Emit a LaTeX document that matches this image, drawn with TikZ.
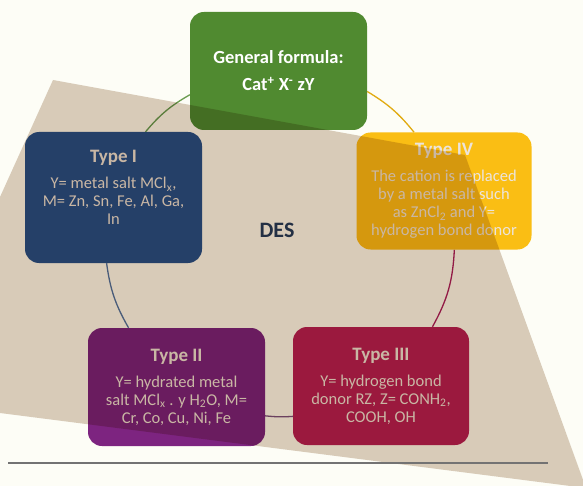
\documentclass[tikz,border=0pt]{standalone}
\usepackage{fontspec}
\setmainfont{Carlito}
\usetikzlibrary{backgrounds}
\definecolor{paper}{RGB}{253,253,246}
\definecolor{sandcol}{RGB}{218,205,191}
\definecolor{genfill}{RGB}{80,138,48}
\definecolor{onefill}{RGB}{44,80,140}
\definecolor{twofill}{RGB}{125,36,128}
\definecolor{threefill}{RGB}{182,32,84}
\definecolor{fourfill}{RGB}{250,190,20}
\definecolor{boxtext}{RGB}{236,228,220}
\definecolor{desblue}{RGB}{42,60,92}
\definecolor{rulegray}{RGB}{115,115,115}
\tikzset{
  typebox/.style={rounded corners=14pt, align=center, text=boxtext, inner sep=0pt,
    font=\fontsize{16.5}{18}\selectfont, minimum width=177pt, minimum height=118pt},
  ring/.style={line width=1.3pt},
}
\newcommand{\boxtitle}[1]{{\fontsize{19}{20}\selectfont\bfseries #1}\\[8pt]}
\begin{document}
\begin{tikzpicture}[x=1pt,y=-1pt]
\useasboundingbox (0,0) rectangle (583,486);
% the five boxes
\node[typebox, fill=genfill, text=white, font=\fontsize{18.5}{27}\selectfont\bfseries] (gen) at (278.5,71) {General formula:\\Cat\textsuperscript{+} X\textsuperscript{-} zY};
\node[typebox, fill=onefill, minimum height=131pt] (tI) at (113.5,197.5)
  {\boxtitle{Type I}Y= metal salt MCl\textsubscript{x},\\M= Zn, Sn, Fe, Al, Ga,\\In\\[2pt]\mbox{}};
\node[typebox, fill=fourfill, minimum width=175pt, minimum height=117pt] (tIV) at (444,191)
  {\boxtitle{Type IV}The cation is replaced\\by a metal salt such\\as ZnCl\textsubscript{2} and Y=\\hydrogen bond donor};
\node[typebox, fill=twofill] (tII) at (176.5,387)
  {\boxtitle{Type II}Y= hydrated metal\\salt MCl\textsubscript{x} . y H\textsubscript{2}O, M=\\Cr, Co, Cu, Ni, Fe};
\node[typebox, fill=threefill, minimum width=176pt] (tIII) at (381,386)
  {\boxtitle{Type III}Y= hydrogen bond\\donor RZ, Z= CONH\textsubscript{2},\\COOH, OH};
\node[text=desblue, font=\fontsize{22}{24}\selectfont\bfseries] (des) at (277,230) {DES};
% ring behind the boxes
\begin{scope}[on background layer]
\fill[paper] (0,0) rectangle (583,486);
\draw[ring, color=genfill!85!white] (gen.195) to[bend right=10] (tI.64);
\draw[ring, color=fourfill!90!black] (gen.347) to[bend left=10] (tIV.117);
\draw[ring, color=threefill!80!twofill] (tIV.280) to[bend left=13] (tIII.49);
\draw[ring, color=twofill!50!gray] (tIII.199) to[bend left=5] (tII.342);
\draw[ring, color=onefill!80!white] (tII.129) to[bend left=11] (tI.264);
\end{scope}
% sand sheet laid over
\begin{scope}
\clip (0,0) rectangle (583,486);
\fill[sandcol, blend mode=multiply] (53,80) -- (465,155) -- (586,488) -- (0,413) -- (0,197) -- cycle;
\end{scope}
\draw[rulegray, line width=2.5pt] (8,463) -- (548,463);
\end{tikzpicture}
\end{document}
